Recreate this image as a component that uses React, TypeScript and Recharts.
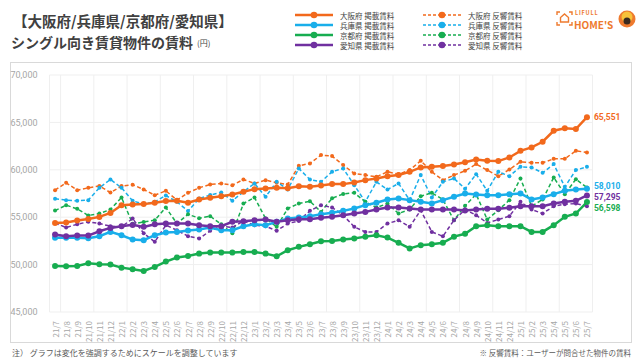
import React from 'react';
import { LineChart, Line, XAxis, YAxis, CartesianGrid } from 'recharts';

const months = [
  '21/7', '21/8', '21/9', '21/10', '21/11', '21/12',
  '22/1', '22/2', '22/3', '22/4', '22/5', '22/6', '22/7', '22/8', '22/9', '22/10', '22/11', '22/12',
  '23/1', '23/2', '23/3', '23/4', '23/5', '23/6', '23/7', '23/8', '23/9', '23/10', '23/11', '23/12',
  '24/1', '24/2', '24/3', '24/4', '24/5', '24/6', '24/7', '24/8', '24/9', '24/10', '24/11', '24/12',
  '25/1', '25/2', '25/3', '25/4', '25/5', '25/6', '25/7',
];

const osakaListed = [
  54400, 54450, 54650, 54800, 55030, 55450, 56270, 56340, 56380, 56520, 56700, 56730, 56530, 56870, 57040, 57220, 57400, 57680,
  57960, 58030, 58100, 58050, 58270, 58200, 58350, 58500, 58490, 58660, 58910, 59090, 59330, 59440, 59790, 60250, 60320, 60390,
  60560, 60800, 61090, 60950, 60920, 61300, 62000, 62360, 62960, 64120, 64370, 64300, 65551,
];
const hyogoListed = [
  52820, 52820, 52820, 52780, 52990, 53450, 53100, 52640, 52570, 53100, 53380, 53450, 53590, 53700, 53910, 53630, 53630, 54050,
  54260, 54160, 54510, 54860, 54970, 55110, 55320, 55460, 55670, 55920, 56270, 56520, 56870, 56970, 56800, 56620, 56440, 56800,
  57150, 57500, 57400, 57320, 57320, 57430, 57500, 56870, 57080, 57430, 57780, 57920, 58010,
];
const kyotoListed = [
  49860, 49830, 49860, 50140, 50040, 50000, 49680, 49510, 49330, 49760, 50320, 50740, 50900, 51160, 51270, 51270, 51270, 51340,
  51340, 51160, 50880, 51520, 51870, 52150, 52470, 52500, 52640, 52750, 52950, 53100, 52850, 52300, 51700, 52050, 52150, 52300,
  52950, 53250, 54050, 54160, 54050, 54050, 54050, 53450, 53450, 54160, 55040, 55390, 56598,
];
const aichiListed = [
  53170, 53000, 53060, 53060, 53520, 53870, 54050, 54190, 53980, 54260, 54330, 54330, 54330, 54160, 54050, 54050, 54510, 54580,
  54680, 54750, 54510, 54680, 54790, 54790, 54930, 55040, 55210, 55390, 55560, 55810, 56020, 56020, 55920, 55810, 55810, 55810,
  55810, 55700, 55810, 55880, 55880, 55990, 56160, 56160, 56160, 56440, 56620, 56730, 57295,
];
const osakaInquiry = [
  57850, 58630, 57850, 58100, 58290, 57600, 58290, 58430, 57920, 57320, 57780, 56800, 57580, 58100, 58450, 58560, 58380, 58980,
  58560, 58910, 58630, 58450, 60420, 60670, 61550, 61450, 60500, 59610, 59440, 59260, 59790, 59540, 59970, 60950, 59790, 58910,
  59440, 59900, 60600, 59970, 59330, 60030, 60850, 60740, 60740, 61160, 61160, 62000, 61830,
];
const hyogoInquiry = [
  56940, 56800, 56730, 56800, 58100, 58980, 58100, 56730, 56370, 56620, 57290, 56620, 55650, 56970, 57330, 57610, 56730, 57680,
  58560, 57150, 58730, 57920, 60140, 58980, 58730, 59800, 60140, 58380, 56620, 58730, 57920, 58560, 56800, 59440, 57080, 58730,
  59090, 58000, 59540, 57780, 59790, 59330, 60320, 60250, 59680, 60600, 58200, 59970, 60320,
];
const kyotoInquiry = [
  55700, 56270, 55880, 55180, 55390, 55810, 57080, 54300, 54500, 54680, 56020, 54330, 55300, 54900, 55100, 54250, 53300, 56440,
  57080, 54860, 53980, 55920, 56440, 56690, 55560, 57000, 57450, 57570, 56620, 56020, 56440, 55390, 55810, 57220, 57570, 56870,
  54680, 56200, 57430, 54750, 55740, 56800, 59090, 56160, 56870, 59190, 57430, 59010, 58130,
];
const aichiInquiry = [
  54400, 53910, 54260, 54510, 54330, 54050, 53980, 54860, 53300, 52400, 54160, 53630, 52990, 52750, 53560, 54050, 53910, 54610,
  54160, 54050, 53560, 54330, 54610, 55670, 56270, 56020, 55210, 53980, 53450, 53450, 54330, 54680, 53980, 55740, 53450, 52990,
  54680, 55800, 55210, 54400, 54750, 55110, 56620, 55810, 55390, 56160, 56370, 56440, 56160,
];

const yTicks = [45000, 50000, 55000, 60000, 65000, 70000];

const listedNames = ['大阪府 掲載賃料', '兵庫県 掲載賃料', '京都府 掲載賃料', '愛知県 掲載賃料'];
const inquiryNames = ['大阪府 反響賃料', '兵庫県 反響賃料', '京都府 反響賃料', '愛知県 反響賃料'];
const colors = ['#F2691C', '#19AEEA', '#17AD50', '#7030A0'];
const listedKeys = ['osakaListed', 'hyogoListed', 'kyotoListed', 'aichiListed'];
const inquiryKeys = ['osakaInquiry', 'hyogoInquiry', 'kyotoInquiry', 'aichiInquiry'];
const endLabelShift = [0, -3, 6, 1.5];

const data = months.map((m, i) => ({
  month: m,
  idx: i,
  osakaListed: osakaListed[i],
  hyogoListed: hyogoListed[i],
  kyotoListed: kyotoListed[i],
  aichiListed: aichiListed[i],
  osakaInquiry: osakaInquiry[i],
  hyogoInquiry: hyogoInquiry[i],
  kyotoInquiry: kyotoInquiry[i],
  aichiInquiry: aichiInquiry[i],
}));

const gridTicks = Array.from({ length: months.length + 1 }, (_, k) => k - 0.5);

const FONT = '"Noto Sans CJK JP", "Noto Sans", sans-serif';
const NUM_FONT = 'Roboto, "Liberation Sans", sans-serif';

const XTick = (props: any) => {
  const { x, y, payload } = props;
  return (
    <text
      x={x}
      y={y}
      transform={`rotate(-90 ${x} ${y})`}
      textAnchor="end"
      dominantBaseline="central"
      fontSize={8}
      fill="#a6a6a6"
      fontFamily={FONT}
    >
      {payload.value}
    </text>
  );
};

const makeEndLabel = (color: string, shift: number) => (props: any) => {
  const { x, y, index, value } = props;
  if (index !== months.length - 1) return null;
  return (
    <text
      x={x + 7}
      y={y + shift}
      dominantBaseline="central"
      fontSize={8.5}
      fontWeight={700}
      fill={color}
      fontFamily={NUM_FONT}
    >
      {Number(value).toLocaleString('en-US')}
    </text>
  );
};

const LegendRow = ({ x, y, color, dashed, label }: any) => (
  <g>
    <line
      x1={x}
      x2={x + 38}
      y1={y}
      y2={y}
      stroke={color}
      strokeWidth={dashed ? 1.5 : 2.5}
      strokeDasharray={dashed ? '3 2' : undefined}
    />
    <circle cx={x + 19} cy={y} r={3.3} fill={color} />
    <text x={x + 45} y={y} dominantBaseline="central" fontSize={7.5} fill="#404040" fontFamily={FONT}>
      {label}
    </text>
  </g>
);

export default function App() {
  return (
    <div
      style={{
        position: 'absolute',
        left: 0,
        top: 0,
        width: 642,
        height: 361,
        background: '#ffffff',
        fontFamily: FONT,
        overflow: 'hidden',
      }}
    >
      <svg width={642} height={361} style={{ position: 'absolute', left: 0, top: 0 }}>
        <text x={13} y={20} dominantBaseline="central" fontSize={14.5} fontWeight={700} fill="#404040" fontFamily={FONT}>
          【大阪府/兵庫県/京都府/愛知県】
        </text>
        <text x={11} y={42} dominantBaseline="central" fontSize={14} fontWeight={700} fill="#404040" fontFamily={FONT}>
          シングル向き賃貸物件の賃料
          <tspan fontSize={8} fontWeight={400} dx={4}>(円)</tspan>
        </text>
        {listedNames.map((n, i) => (
          <LegendRow key={n} x={295} y={15 + i * 10} color={colors[i]} dashed={false} label={n} />
        ))}
        {inquiryNames.map((n, i) => (
          <LegendRow key={n} x={423} y={15 + i * 10} color={colors[i]} dashed={true} label={n} />
        ))}
        {/* logo */}
        <g stroke="#EE7A2E" strokeWidth={1.4} fill="none">
          <path d="M557 15 v-3 h3 M569 12 h3 v3 M572 22 v3 h-3 M560 25 h-3 v-3" />
          <path d="M560.5 22 v-4.5 l4 -3.5 l4 3.5 v4.5 z" />
        </g>
        <text x={575} y={12.5} dominantBaseline="central" fontSize={5.5} fontWeight={700} fill="#EE7A2E" fontFamily={FONT} letterSpacing={0.8}>
          LIFULL
        </text>
        <text x={574} y={24} dominantBaseline="central" fontSize={10} fontWeight={700} fill="#EE7A2E" fontFamily={FONT}>
          HOME'S
        </text>
        <circle cx={627} cy={19} r={8.5} fill="#EE7A2E" />
        <circle cx={627} cy={17} r={5.5} fill="#F8C23A" />
        <circle cx={627} cy={21} r={3.5} fill="#3a2a20" />
        {/* frame */}
        <rect x={10.5} y={62.5} width={621} height={280} fill="none" stroke="#d9d9d9" strokeWidth={1} />
        <text x={12} y={352} dominantBaseline="central" fontSize={8} fill="#595959" fontFamily={FONT}>
          注） グラフは変化を強調するためにスケールを調整しています
        </text>
        <text x={631} y={352} textAnchor="end" dominantBaseline="central" fontSize={7.5} fill="#595959" fontFamily={FONT}>
          ※ 反響賃料：ユーザーが問合せた物件の賃料
        </text>
      </svg>
      <div style={{ position: 'absolute', left: 0, top: 0 }}>
        <LineChart
          width={642}
          height={361}
          data={data}
          margin={{ top: 75, right: 49.5, bottom: 24, left: 9.5 }}
        >
          <CartesianGrid xAxisId="grid" stroke="#efefef" strokeWidth={1} />
          <XAxis
            xAxisId="grid"
            type="number"
            dataKey="idx"
            domain={[-0.5, months.length - 0.5]}
            ticks={gridTicks}
            allowDataOverflow
            hide
          />
          <XAxis
            dataKey="month"
            scale="band"
            interval={0}
            height={25}
            axisLine={false}
            tickLine={false}
            tick={<XTick />}
            tickMargin={3}
          />
          <YAxis
            domain={[45000, 70000]}
            ticks={yTicks}
            width={40}
            axisLine={false}
            tickLine={false}
            tickFormatter={(v: number) => v.toLocaleString('en-US')}
            tick={{ fontSize: 9, fill: '#a6a6a6', fontFamily: NUM_FONT }}
            tickMargin={6}
          />
          {inquiryKeys.map((k, i) => (
            <Line
              key={k}
              dataKey={k}
              name={inquiryNames[i]}
              stroke={colors[i]}
              strokeWidth={1.5}
              strokeDasharray="4 2.5"
              dot={{ r: 2, fill: colors[i], stroke: colors[i], strokeWidth: 0 }}
              activeDot={false}
              isAnimationActive={false}
            />
          ))}
          {listedKeys.map((k, i) => (
            <Line
              key={k}
              dataKey={k}
              name={listedNames[i]}
              stroke={colors[i]}
              strokeWidth={2.5}
              dot={{ r: 3, fill: colors[i], stroke: colors[i], strokeWidth: 0 }}
              activeDot={false}
              isAnimationActive={false}
              label={makeEndLabel(colors[i], endLabelShift[i])}
            />
          ))}
        </LineChart>
      </div>
    </div>
  );
}
